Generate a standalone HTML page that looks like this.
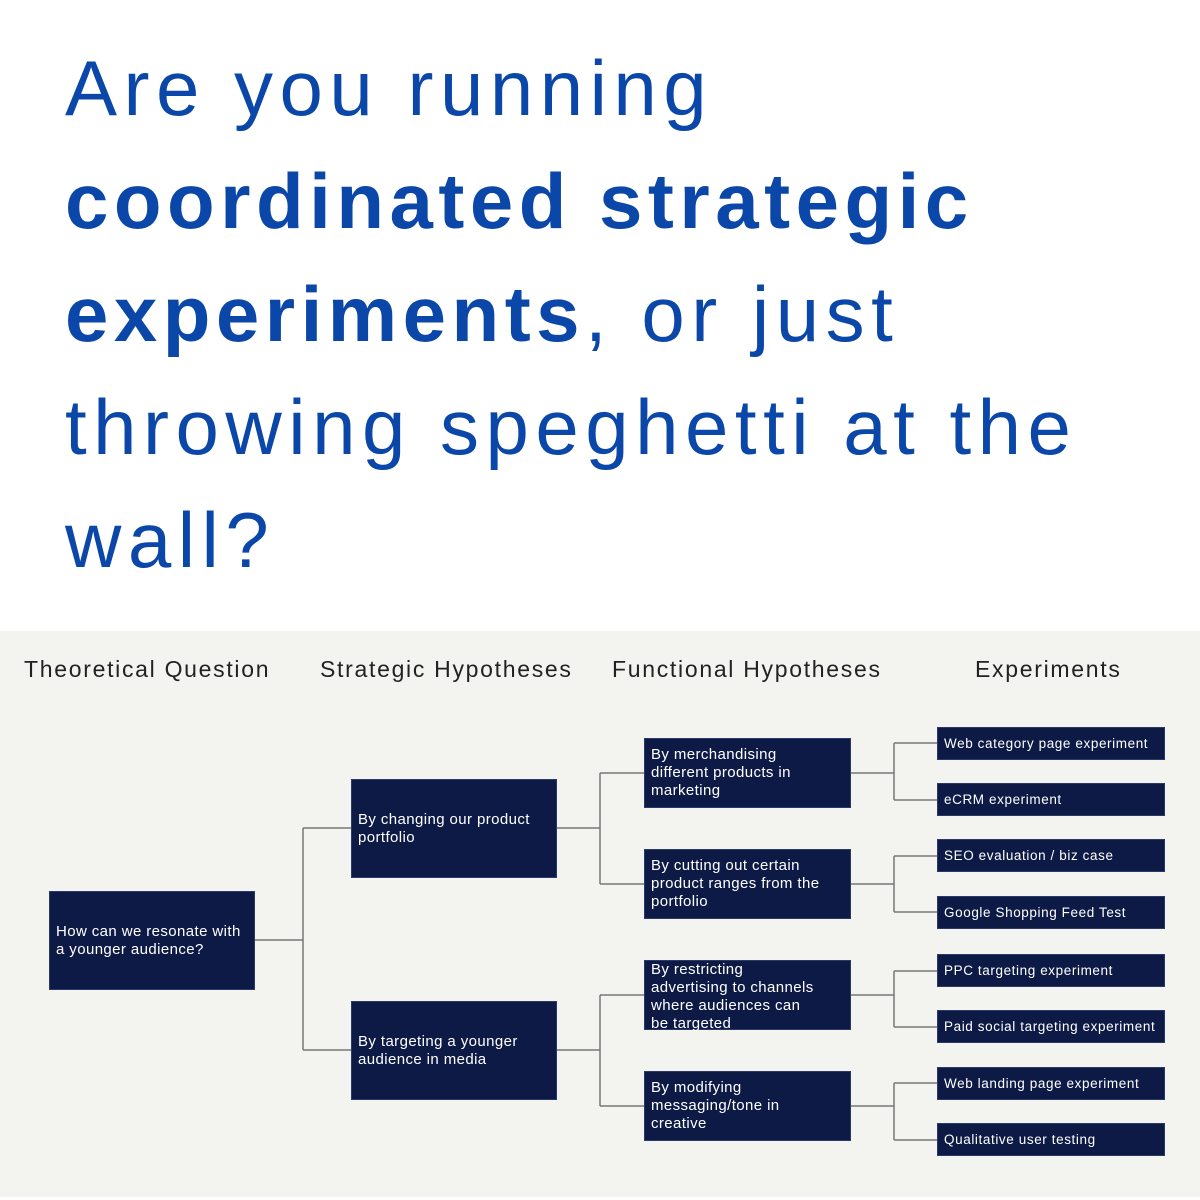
<!DOCTYPE html>
<html><head><style>
body{margin:0;width:1200px;height:1200px;background:#fff;position:relative;overflow:hidden;font-family:"Liberation Sans",sans-serif}
.t{position:absolute;left:65px;font-size:78px;color:#0b47a8;line-height:113px;top:32px;letter-spacing:6.5px}
.t b{font-weight:bold;letter-spacing:5.5px}
.panel{position:absolute;left:0;top:631px;width:1200px;height:566px;background:#f3f3f0}
.h{position:absolute;top:656px;font-size:23px;color:#222;white-space:nowrap;letter-spacing:1.7px}
.b{position:absolute;background:#0d1a46;color:#fff;font-size:15px;line-height:18px;padding-left:6px;padding-right:4px;box-sizing:border-box;display:flex;align-items:center;border:1px solid #2a3a66;letter-spacing:0.4px}
.e{position:absolute;left:937px;width:228px;height:33px;background:#0d1a46;color:#fff;font-size:13.5px;padding-left:6px;box-sizing:border-box;line-height:31px;border:1px solid #2a3a66;letter-spacing:0.6px;white-space:nowrap}
svg{position:absolute;left:0;top:0}
</style></head><body>
<div class="t">Are you running<br><b>coordinated strategic<br>experiments</b>, or just<br>throwing speghetti at the<br>wall?</div>
<div class="panel"></div>
<div class="h" style="left:24px">Theoretical Question</div>
<div class="h" style="left:320px">Strategic Hypotheses</div>
<div class="h" style="left:612px">Functional Hypotheses</div>
<div class="h" style="left:975px">Experiments</div>
<svg width="1200" height="1200"><g stroke="#777" stroke-width="1.5" fill="none">
<path d="M255 940H303M303 828V1050M303 828H351M303 1050H351"/>
<path d="M557 828H600M600 773V884M600 773H644M600 884H644"/>
<path d="M557 1050H600M600 995V1106M600 995H644M600 1106H644"/>
<path d="M851 773H894M894 743V800M894 743H937M894 800H937"/>
<path d="M851 884H894M894 856V912M894 856H937M894 912H937"/>
<path d="M851 995H894M894 971V1027M894 971H937M894 1027H937"/>
<path d="M851 1106H894M894 1083V1140M894 1083H937M894 1140H937"/>
</g></svg>
<div class="b" style="left:49px;top:891px;width:206px;height:99px">How can we resonate with a younger audience?</div>
<div class="b" style="left:351px;top:779px;width:206px;height:99px;align-items:flex-start;padding-top:31px">By changing our product portfolio</div>
<div class="b" style="left:351px;top:1001px;width:206px;height:99px">By targeting a younger audience in media</div>
<div class="b" style="left:644px;top:738px;width:207px;height:70px;padding-right:40px">By merchandising different products in marketing</div>
<div class="b" style="left:644px;top:849px;width:207px;height:70px;padding-right:12px">By cutting out certain product ranges from the portfolio</div>
<div class="b" style="left:644px;top:960px;width:207px;height:70px;padding-right:30px;align-items:flex-start;padding-top:0;overflow:visible">By restricting advertising to channels where audiences can be targeted</div>
<div class="b" style="left:644px;top:1071px;width:207px;height:70px;padding-right:40px">By modifying messaging/tone in creative</div>
<div class="e" style="top:727px">Web category page experiment</div>
<div class="e" style="top:783px">eCRM experiment</div>
<div class="e" style="top:839px">SEO evaluation / biz case</div>
<div class="e" style="top:896px">Google Shopping Feed Test</div>
<div class="e" style="top:954px">PPC targeting experiment</div>
<div class="e" style="top:1010px">Paid social targeting experiment</div>
<div class="e" style="top:1067px">Web landing page experiment</div>
<div class="e" style="top:1123px">Qualitative user testing</div>
</body></html>
